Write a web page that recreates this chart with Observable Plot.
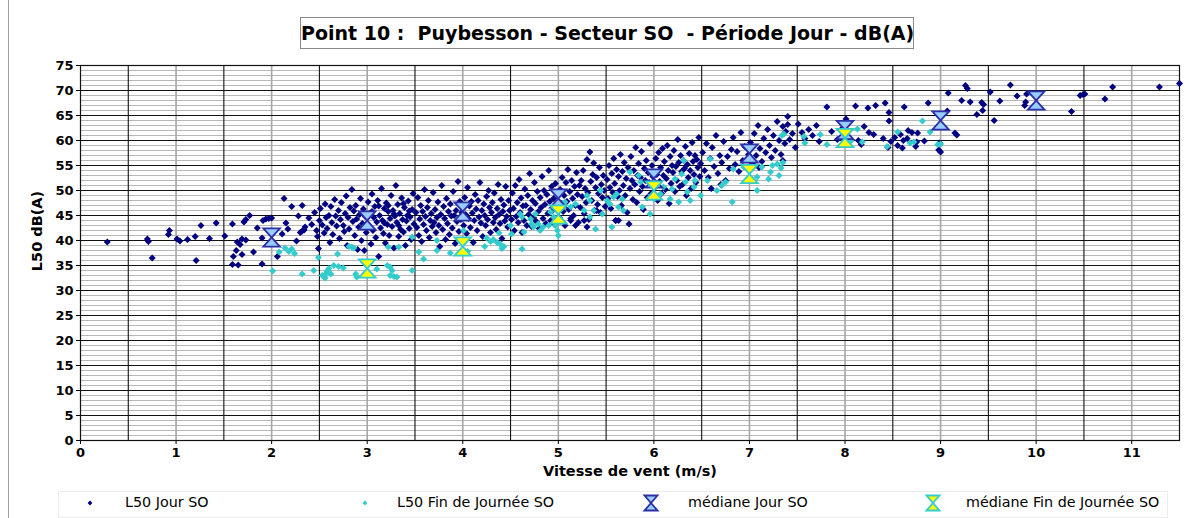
<!DOCTYPE html>
<html>
<head>
<meta charset="utf-8">
<script src="https://cdn.jsdelivr.net/npm/d3@7"></script>
<script src="https://cdn.jsdelivr.net/npm/@observablehq/plot@0.6"></script>
<style>
  html, body { margin: 0; padding: 0; background: #fff; }
  #wrap { position: relative; width: 1192px; height: 518px; overflow: hidden; font-family: "DejaVu Sans", sans-serif; }
  #chart { position: absolute; left: 0; top: 0; }
  .abs { position: absolute; white-space: pre; color: #000; }
  #title { left: 300px; top: 17px; width: 612px; height: 30px; line-height: 30px; border: 1.5px solid #8a8a8a; text-align: center; font-weight: bold; font-size: 19px; background: #fff; }
  #ylab { left: 37px; top: 231px; transform: translate(-50%, -50%) rotate(-90deg); font-weight: bold; font-size: 14.5px; }
  #xlab { left: 630px; top: 471px; transform: translate(-50%, -50%); font-weight: bold; font-size: 14.5px; }
  #frameLeft { left: 8px; top: 0; width: 0; height: 518px; border-left: 1.5px solid #a0a0a0; }
  #legend { left: 58px; top: 491px; width: 1108px; height: 25px; border: 1px solid #ececec; }
  .lt { font-size: 14.3px; top: 494px; }
</style>
</head>
<body>
<div id="wrap">
  <div id="chart"></div>
  <div class="abs" id="frameLeft"></div>
  <div class="abs" id="title"></div>
  <div class="abs" id="ylab"></div>
  <div class="abs" id="xlab"></div>
  <div class="abs" id="legend"></div>
</div>
<script>
// ---------- texts ----------
const titleText = "Point 10 :  Puybesson - Secteur SO  - Période Jour - dB(A)";
const xTitle = "Vitesse de vent (m/s)";
const yTitle = "L50 dB(A)";
const seriesNames = ["L50 Jour SO", "L50 Fin de Journée SO", "médiane Jour SO", "médiane Fin de Journée SO"];

// ---------- ticks ----------
const xTicks = [0, 1, 2, 3, 4, 5, 6, 7, 8, 9, 10, 11];
const yTicks = [0, 5, 10, 15, 20, 25, 30, 35, 40, 45, 50, 55, 60, 65, 70, 75];

// ---------- series: L50 Jour SO [vitesse, dB] ----------
const jourPts = [
[0.28,39.7],[0.70,40.3],[0.71,39.8],[0.75,36.5],[0.93,42.0],[0.92,41.2],[1.01,40.3],[1.04,39.9],[1.12,40.2],[1.20,40.8],
[1.26,43.0],[1.21,36.0],[1.35,40.4],[1.42,43.5],[1.51,40.9],[1.59,43.3],[1.59,35.2],[1.65,35.1],[1.60,36.8],[1.63,38.0],
[1.64,39.7],[1.67,39.2],[1.69,40.3],[1.73,40.1],[1.69,37.2],[1.71,43.7],[1.73,44.2],[1.77,45.0],[1.81,37.7],[1.85,42.5],
[1.90,35.3],[1.91,44.0],[1.94,44.3],[1.97,44.4],[2.00,44.5],[1.90,40.5],[2.06,36.8],[2.11,41.3],[2.13,48.4],[2.15,43.5],
[2.17,42.3],[2.21,46.8],[2.26,39.9],[2.28,44.9],[2.32,47.0],[2.30,41.6],[2.32,41.9],[2.34,42.1],[2.39,44.5],[2.35,42.7],
[2.42,43.2],[2.45,45.6],[2.47,42.0],[2.48,40.8],[2.49,38.4],[2.50,44.0],[2.51,46.4],[2.53,43.1],[2.55,41.5],[2.56,47.3],
[2.57,44.6],[2.58,42.4],[2.60,45.0],[2.61,39.6],[2.62,46.8],[2.63,43.6],[2.64,41.2],[2.66,48.2],[2.67,44.9],[2.68,42.9],
[2.70,46.0],[2.71,40.4],[2.72,44.2],[2.73,47.6],[2.75,43.0],[2.76,41.8],[2.77,45.4],[2.78,48.9],[2.79,39.0],[2.80,44.6],
[2.81,42.3],[2.82,46.6],[2.84,50.2],[2.85,43.8],[2.86,45.9],[2.87,41.0],[2.88,47.0],[2.89,44.3],[2.90,38.2],[2.91,42.7],
[2.92,45.2],[2.93,48.4],[2.94,40.0],[2.95,43.4],[2.96,46.3],[2.97,38.0],[2.98,44.8],[2.99,41.6],
[3.01,47.7],[3.02,43.0],[3.03,45.5],[3.04,39.3],[3.05,49.3],[3.06,42.0],[3.07,44.6],[3.08,46.8],[3.09,40.6],[3.10,43.7],
[3.11,48.0],[3.12,36.8],[3.13,45.0],[3.14,42.5],[3.15,50.4],[3.16,44.0],[3.17,41.4],[3.18,46.4],[3.19,39.5],[3.20,47.5],
[3.21,43.2],[3.22,45.8],[3.23,41.0],[3.24,44.4],[3.25,49.0],[3.26,42.8],[3.27,46.0],[3.28,38.5],[3.29,44.9],[3.30,51.0],
[3.31,43.6],[3.32,47.2],[3.33,40.8],[3.34,45.4],[3.35,42.2],[3.36,48.5],[3.37,44.2],[3.38,41.7],[3.39,46.6],[3.40,39.0],
[3.41,43.9],[3.42,45.0],[3.43,47.9],[3.44,42.4],[3.45,44.7],[3.46,40.2],[3.47,46.2],[3.48,49.4],[3.49,43.3],
[3.05,45.8],[3.12,46.9],[3.18,43.5],[3.22,47.0],[3.28,45.3],[3.33,43.0],[3.38,47.4],[3.44,45.9],
[3.51,45.6],[3.52,42.6],[3.53,48.6],[3.54,41.0],[3.55,44.3],[3.56,47.0],[3.57,39.8],[3.58,45.8],[3.59,43.2],[3.60,50.2],
[3.61,44.8],[3.62,42.0],[3.63,46.6],[3.64,48.0],[3.65,40.6],[3.66,44.0],[3.67,45.4],[3.68,42.8],[3.69,49.6],[3.70,43.6],
[3.71,46.2],[3.72,41.6],[3.73,44.6],[3.74,47.7],[3.75,43.0],[3.76,38.8],[3.77,45.2],[3.78,51.0],[3.79,42.2],[3.80,46.8],
[3.81,44.4],[3.82,40.2],[3.83,48.4],[3.84,43.4],[3.85,45.8],[3.86,41.2],[3.87,47.3],[3.88,44.9],[3.89,42.5],[3.90,49.8],
[3.91,45.0],[3.92,39.4],[3.93,46.0],[3.94,43.8],[3.95,51.8],[3.96,41.8],[3.97,47.8],[3.98,44.2],[3.99,45.6],
[4.01,43.0],[4.02,48.6],[4.03,45.2],[4.04,41.4],[4.05,50.6],[4.06,44.4],[4.07,46.9],[4.08,42.6],[4.09,47.8],[4.10,45.5],
[4.11,39.6],[4.12,44.0],[4.13,49.2],[4.14,46.3],[4.15,42.0],[4.16,48.0],[4.17,44.7],[4.18,51.6],[4.19,43.5],[4.20,46.0],
[4.21,40.8],[4.22,47.3],[4.23,45.0],[4.24,43.0],[4.25,48.8],[4.26,44.2],[4.27,50.0],[4.28,46.6],[4.29,41.6],[4.30,45.6],
[4.31,47.6],[4.32,43.6],[4.33,49.5],[4.34,44.6],[4.35,42.2],[4.36,46.4],[4.37,51.2],[4.38,45.2],[4.39,43.4],[4.40,48.2],
[4.41,40.4],[4.42,45.8],[4.43,47.1],[4.44,43.9],[4.45,50.8],[4.46,44.8],[4.47,42.7],[4.48,48.0],[4.49,46.0],
[4.51,44.2],[4.52,49.5],[4.53,46.4],[4.54,42.0],[4.55,51.0],[4.56,44.8],[4.57,47.6],[4.58,43.6],[4.59,52.2],[4.60,45.6],
[4.61,48.5],[4.62,41.6],[4.63,46.9],[4.64,44.0],[4.65,50.3],[4.66,47.0],[4.67,43.0],[4.68,49.0],[4.69,45.2],[4.70,53.4],
[4.71,46.2],[4.72,42.8],[4.73,48.0],[4.74,44.6],[4.75,51.6],[4.76,47.4],[4.77,43.8],[4.78,49.8],[4.79,45.8],[4.80,42.4],
[4.81,48.6],[4.82,46.6],[4.83,52.8],[4.84,44.4],[4.85,50.0],[4.86,47.2],[4.87,43.4],[4.88,49.2],[4.89,45.4],[4.90,54.0],
[4.91,47.8],[4.92,44.0],[4.93,50.8],[4.94,46.0],[4.95,48.4],[4.96,43.2],[4.97,51.4],[4.98,46.8],[4.99,49.6],
[5.01,44.6],[5.02,50.2],[5.03,47.4],[5.04,52.6],[5.05,45.8],[5.06,49.0],[5.07,43.0],[5.08,51.6],[5.09,47.8],[5.10,54.2],
[5.11,46.2],[5.12,49.8],[5.13,44.4],[5.14,52.0],[5.15,48.4],[5.16,45.0],[5.17,50.8],[5.18,47.0],[5.19,53.6],[5.20,49.2],
[5.21,43.6],[5.22,51.0],[5.23,46.6],[5.24,52.0],[5.25,48.8],[5.26,54.0],[5.27,45.4],[5.28,50.4],[5.29,47.6],[5.30,56.2],
[5.31,49.6],[5.32,44.2],[5.33,57.7],[5.34,51.8],[5.35,48.0],[5.36,53.2],[5.37,55.5],[5.38,46.0],[5.39,50.6],[5.40,52.6],
[5.41,47.2],[5.42,49.4],[5.43,54.6],[5.44,45.6],[5.45,51.2],[5.46,48.6],[5.47,53.0],[5.48,50.0],[5.49,46.8],
[5.13,44.0],[5.18,43.0],[5.27,44.0],[5.30,42.7],[5.40,46.0],[5.60,44.0],[5.63,44.0],
[5.51,52.2],[5.52,48.4],[5.53,55.0],[5.54,50.6],[5.55,46.4],[5.56,53.4],[5.57,49.6],[5.58,56.4],[5.59,51.4],[5.60,44.0],
[5.61,54.2],[5.62,48.8],[5.63,52.8],[5.64,50.0],[5.65,57.2],[5.66,47.0],[5.67,53.8],[5.68,51.0],[5.69,55.6],[5.70,49.0],
[5.71,52.4],[5.72,45.6],[5.73,54.6],[5.74,43.3],[5.75,50.4],[5.76,56.8],[5.77,52.0],[5.78,48.2],[5.79,54.0],[5.80,51.2],
[5.81,58.6],[5.82,47.6],[5.83,53.0],[5.84,55.4],[5.85,49.8],[5.86,52.6],[5.87,57.8],[5.88,50.8],[5.89,46.2],[5.90,54.4],
[5.91,52.0],[5.92,56.0],[5.93,48.6],[5.94,53.6],[5.95,51.6],[5.96,59.4],[5.97,49.4],[5.98,55.0],[5.99,52.8],
[6.01,50.6],[6.02,56.4],[6.03,53.2],[6.04,48.0],[6.05,57.6],[6.06,51.8],[6.07,54.6],[6.08,49.4],[6.09,58.4],[6.10,53.0],
[6.11,55.8],[6.12,50.2],[6.13,52.4],[6.14,59.0],[6.15,54.0],[6.16,47.4],[6.17,56.8],[6.18,51.4],[6.19,55.0],[6.20,53.6],
[6.21,58.0],[6.22,49.8],[6.23,54.8],[6.24,52.0],[6.25,60.2],[6.26,55.6],[6.27,50.8],[6.28,57.0],[6.29,53.8],[6.30,51.2],
[6.31,56.0],[6.32,54.4],[6.33,58.8],[6.34,49.0],[6.35,55.2],[6.36,52.6],[6.37,57.4],[6.38,54.0],[6.39,50.4],[6.40,59.6],
[6.41,55.8],[6.42,53.2],[6.43,57.0],[6.44,51.6],[6.45,56.2],[6.46,54.6],[6.47,60.6],[6.48,52.8],[6.49,55.4],
[6.51,57.6],[6.53,54.0],[6.55,59.4],[6.57,52.6],[6.59,56.4],[6.61,58.6],[6.63,54.8],[6.65,61.0],[6.67,53.4],[6.69,57.0],
[6.71,55.6],[6.73,59.8],[6.75,52.0],[6.77,56.8],[6.79,54.4],[6.81,58.2],[6.83,60.6],[6.85,55.2],[6.87,57.8],[6.89,53.8],
[6.91,61.6],[6.93,56.0],[6.95,58.8],[6.97,54.6],[6.99,57.2],[6.60,50.4],[6.70,51.2],
[7.01,59.6],[7.03,55.4],[7.05,61.4],[7.07,57.0],[7.09,63.0],[7.11,58.4],[7.13,55.8],[7.15,60.4],[7.17,57.6],[7.19,62.2],
[7.21,59.0],[7.23,56.6],[7.25,61.0],[7.27,58.0],[7.29,63.8],[7.31,60.0],[7.33,57.2],[7.35,62.8],[7.37,59.4],[7.40,64.8],
[7.40,63.2],[7.45,61.4],[7.48,58.6],[7.10,54.6],[7.35,56.0],[7.42,60.2],[7.38,61.8],
[7.51,63.3],[7.55,61.6],[7.58,60.4],[7.62,62.2],[7.66,61.0],[7.70,63.0],[7.73,59.8],[7.81,66.7],[7.86,61.8],[7.92,60.2],
[7.97,62.4],[8.01,64.3],[8.04,60.6],[8.11,66.9],[8.14,60.0],[8.17,59.2],[8.20,62.8],[8.24,66.5],[8.25,61.6],[8.30,61.2],
[8.32,67.0],[8.42,67.5],[8.46,65.6],[8.46,63.9],[8.40,60.4],[8.45,58.6],[8.48,59.8],
[8.52,60.6],[8.55,59.0],[8.58,61.2],[8.60,58.5],[8.61,60.0],[8.62,66.7],[8.65,60.4],[8.66,62.0],[8.70,61.6],[8.74,58.8],
[8.75,59.7],[8.76,61.5],[8.83,59.9],[8.87,67.5],[8.99,59.5],[8.98,58.1],[9.00,57.7],[9.08,69.5],[9.07,65.9],[9.15,61.5],
[9.17,61.1],[9.22,68.0],[9.26,71.0],[9.28,70.4],[9.31,67.7],[9.38,65.2],[9.43,67.6],[9.45,67.2],[9.44,66.0],
[9.52,69.7],[9.56,64.0],[9.62,67.9],[9.73,71.1],[9.80,68.9],[9.88,67.0],[9.89,67.7],[9.90,69.3],[10.37,65.8],[10.46,69.0],
[10.49,69.2],[10.51,69.3],[10.72,68.3],[10.80,70.7],[11.29,70.7],[11.50,71.4]
];

// ---------- series: L50 Fin de Journée SO [vitesse, dB] ----------
const finPts = [
[2.01,33.9],[2.08,37.7],[2.14,38.5],[2.18,37.8],[2.21,38.3],[2.24,37.4],[2.32,33.3],[2.44,34.0],[2.49,36.6],[2.53,33.0],
[2.55,32.8],[2.57,33.4],[2.58,33.9],[2.56,32.5],[2.60,34.4],[2.62,33.3],[2.65,35.0],[2.69,37.3],[2.70,34.8],[2.75,34.5],
[2.81,38.8],[2.86,38.5],[2.88,33.3],[2.89,32.7],[2.84,38.7],[3.10,34.3],[3.21,35.0],[3.22,38.7],[3.24,34.7],[3.26,34.0],
[3.24,33.0],[3.28,32.8],[3.31,32.7],[3.33,38.7],[3.47,40.7],[3.47,34.0],[3.54,37.7],[3.59,36.3],[3.73,40.0],[3.73,38.0],
[3.87,37.5],[4.01,42.0],[4.05,37.8],[4.23,38.8],[4.25,40.5],[4.29,39.8],[4.32,40.2],[4.36,39.6],[4.39,39.3],[4.41,38.4],
[4.43,38.8],[4.38,41.5],[4.50,43.0],[4.51,41.3],[4.62,38.3],[4.64,41.7],[4.60,45.3],[4.62,44.7],[4.71,44.3],[4.72,43.3],
[4.74,42.7],[4.76,45.3],[4.79,43.3],[4.81,42.0],[4.84,42.7],[4.90,43.0],[4.92,45.7],[4.95,44.7],[4.97,43.0],[4.99,42.0],
[5.00,41.0],[5.02,43.7],[5.07,47.7],[5.13,46.7],[5.18,47.3],[5.27,46.0],[5.30,49.0],[5.33,48.0],[5.33,44.7],[5.37,46.0],
[5.39,42.3],[5.44,50.0],[5.46,45.3],[5.51,48.0],[5.54,47.3],[5.56,42.7],[5.58,48.7],[5.61,49.3],[5.63,46.7],[5.67,48.3],
[5.68,46.0],[5.75,53.7],[5.84,53.0],[5.86,51.7],[5.88,46.7],[5.96,45.3],[6.00,48.3],[6.07,49.3],[6.10,50.7],[6.17,48.3],
[6.19,50.3],[6.22,52.3],[6.26,47.7],[6.29,53.3],[6.31,56.0],[6.33,51.7],[6.35,49.7],[6.38,48.0],[6.42,50.7],[6.43,52.0],
[6.49,49.0],[6.56,52.0],[6.59,56.3],[6.66,50.0],[6.71,51.0],[6.75,51.7],[6.82,47.7],[6.83,54.3],[6.94,54.7],[7.01,54.3],
[7.08,50.0],[7.08,52.7],[7.13,54.7],[7.20,52.3],[7.22,53.7],[7.24,55.0],[7.29,55.3],[7.31,53.0],[7.33,54.5],[7.35,55.6],
[7.34,61.0],[7.36,61.3],[7.57,60.8],[7.58,59.5],[7.74,61.2],[7.81,59.2],[8.06,59.9],[8.13,62.3],[8.18,59.7],[8.44,58.8],
[8.55,61.7],[8.68,59.5],[8.72,59.7],[8.81,63.9],[8.89,61.7],[8.97,59.2],[9.00,59.3]
];

// ---------- series: medians ----------
const medJourX = [2, 3, 4, 5, 6, 7, 8, 9, 10];
const medJourY = [40.6, 44.0, 45.8, 48.4, 52.4, 57.4, 62.1, 64.0, 68.0];
const medFinX = [3, 4, 5, 6, 7, 8];
const medFinY = [34.4, 38.8, 45.2, 50.0, 53.3, 60.5];

// ---------- grid positions ----------
const yMinor = d3.range(1, 75).filter(v => v % 5 !== 0);
const xHalf = d3.range(0.5, 11.5, 1);
const xInt = d3.range(1, 12);

// ---------- colours ----------
const colJour = "#000080", colFin = "#33cccc";
const medJourFill = "#99ccff", medJourStroke = "#2b2fa8";
const medFinFill = "#ffff00", medFinStroke = "#33cccc";

// ---------- custom symbols ----------
const diamondSym = { draw(ctx, size) { const r = Math.sqrt(size / Math.PI); ctx.moveTo(0, -r); ctx.lineTo(r, 0); ctx.lineTo(0, r); ctx.lineTo(-r, 0); ctx.closePath(); } };
const hourglassSym = { draw(ctx, size) { const r = Math.sqrt(size / Math.PI); const w = r, h = r * 1.1; ctx.moveTo(-w, -h); ctx.lineTo(w, -h); ctx.lineTo(-w, h); ctx.lineTo(w, h); ctx.closePath(); } };

const medJour = medJourX.map((x, i) => ({x, y: medJourY[i]}));
const medFin = medFinX.map((x, i) => ({x, y: medFinY[i]}));

const chart = Plot.plot({
  width: 1192, height: 518,
  marginTop: 65, marginBottom: 78, marginLeft: 80, marginRight: 13,
  x: { domain: [0, 11.5], ticks: xTicks, tickFormat: d => String(d), label: null, tickSize: 4, tickPadding: 3 },
  y: { domain: [0, 75], ticks: yTicks, tickFormat: d => String(d), label: null, tickSize: 4, tickPadding: 3 },
  style: { fontFamily: "DejaVu Sans", fontSize: "13px", fontWeight: "bold", background: "transparent", color: "#000", overflow: "visible" },
  marks: [
    Plot.ruleY(yMinor, { stroke: "#b8b8b8", strokeWidth: 1 }),
    Plot.ruleX(xInt, { stroke: "#a6a6a6", strokeWidth: 1.6 }),
    Plot.ruleX(xHalf, { stroke: "#111", strokeWidth: 1.1 }),
    Plot.ruleY(yTicks, { stroke: "#111", strokeWidth: 1.1 }),
    Plot.frame({ stroke: "#111", strokeWidth: 1.2 }),
    Plot.dot(jourPts, { x: d => d[0], y: d => d[1], symbol: diamondSym, r: 3.5, fill: colJour, stroke: "none" }),
    Plot.dot(finPts, { x: d => d[0], y: d => d[1], symbol: diamondSym, r: 3.5, fill: colFin, stroke: "none" }),
    Plot.dot(medJour, { x: "x", y: "y", symbol: hourglassSym, r: 8.3, fill: medJourFill, stroke: medJourStroke, strokeWidth: 1.8 }),
    Plot.dot(medFin, { x: "x", y: "y", symbol: hourglassSym, r: 8.3, fill: medFinFill, stroke: medFinStroke, strokeWidth: 1.8 })
  ]
});
document.getElementById("chart").appendChild(chart);

document.getElementById("title").textContent = titleText;
document.getElementById("xlab").textContent = xTitle;
document.getElementById("ylab").textContent = yTitle;

// ---------- legend ----------
const legendItems = [
  { name: seriesNames[0], sx: 90, tx: 125, kind: "d", fill: colJour },
  { name: seriesNames[1], sx: 365, tx: 397, kind: "d", fill: colFin },
  { name: seriesNames[2], sx: 651, tx: 688, kind: "h", fill: medJourFill, stroke: medJourStroke },
  { name: seriesNames[3], sx: 933, tx: 966, kind: "h", fill: medFinFill, stroke: medFinStroke }
];
const wrap = document.getElementById("wrap");
for (const it of legendItems) {
  const svgNS = "http://www.w3.org/2000/svg";
  const s = document.createElementNS(svgNS, "svg");
  s.setAttribute("width", 24); s.setAttribute("height", 24);
  s.style.position = "absolute"; s.style.left = (it.sx - 12) + "px"; s.style.top = (503 - 12) + "px";
  const p = document.createElementNS(svgNS, "path");
  if (it.kind === "d") {
    p.setAttribute("d", "M12,9.6L14.4,12L12,14.4L9.6,12Z");
    p.setAttribute("fill", it.fill);
  } else {
    p.setAttribute("d", "M5.5,4.5L18.5,4.5L5.5,19.5L18.5,19.5Z");
    p.setAttribute("fill", it.fill); p.setAttribute("stroke", it.stroke); p.setAttribute("stroke-width", 1.8);
  }
  s.appendChild(p); wrap.appendChild(s);
  const t = document.createElement("div");
  t.className = "abs lt"; t.style.left = it.tx + "px"; t.textContent = it.name;
  wrap.appendChild(t);
}
</script>
</body>
</html>
